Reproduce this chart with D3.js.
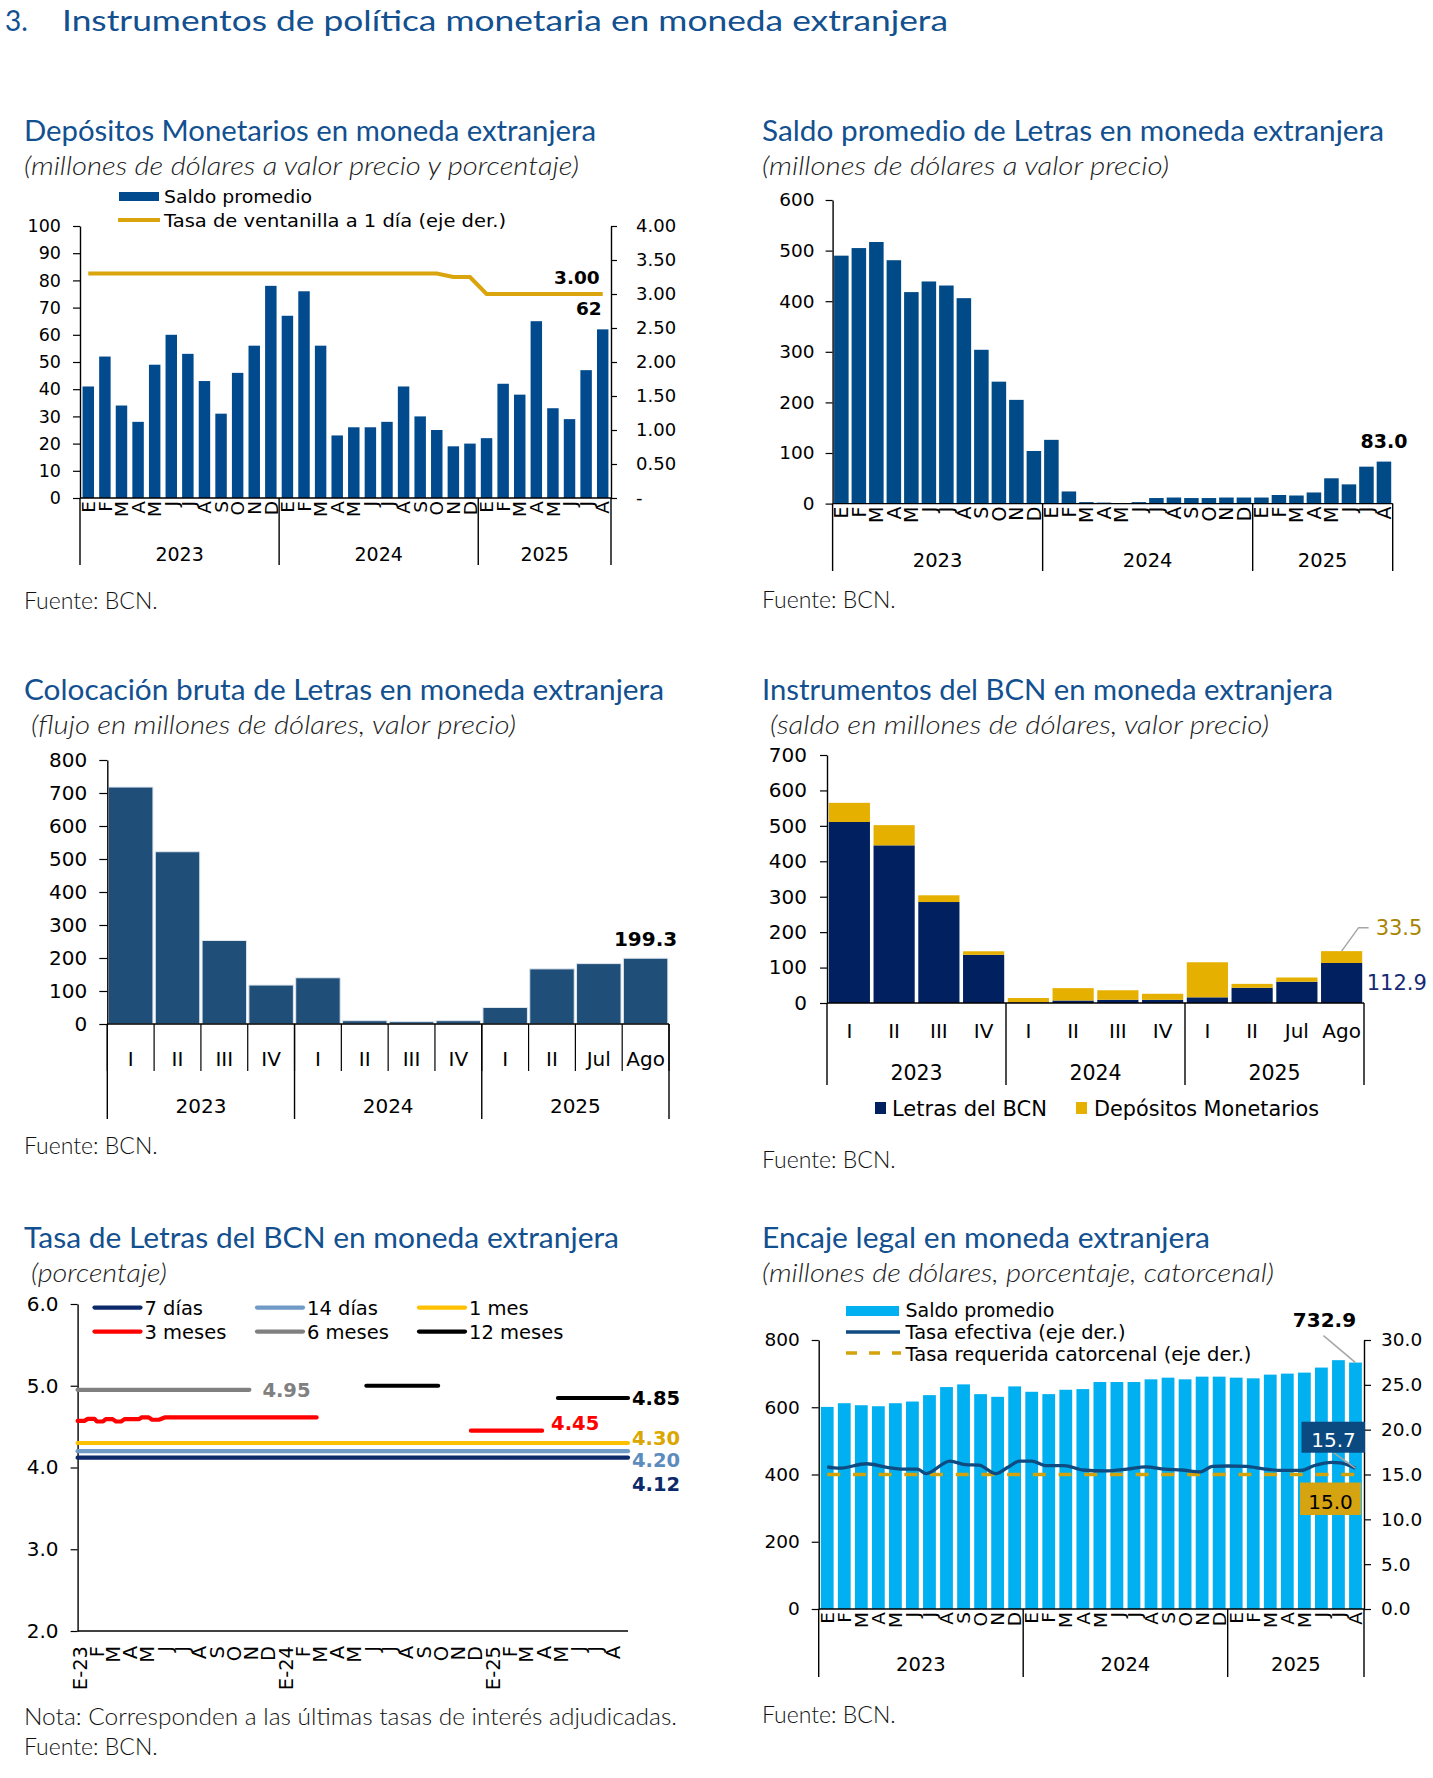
<!DOCTYPE html>
<html lang="es">
<head>
<meta charset="utf-8">
<title>Instrumentos de política monetaria en moneda extranjera</title>
<script src="https://cdn.jsdelivr.net/npm/d3@7"></script>
<style>
  body { margin: 0; background: #fff; }
  svg { display: block; }
  .titulo { font-family: Lato, "Noto Sans", sans-serif; fill: #12508f; font-size: 28px; }
  .subtitulo { font-family: Lato, "Noto Sans", sans-serif; font-style: italic; font-weight: 300; fill: #222; font-size: 26px; }
  .fuente { font-family: Lato, "Noto Sans", sans-serif; font-weight: 300; fill: #111; font-size: 23px; }
  text.ax { font-family: "DejaVu Sans", Verdana, sans-serif; fill: #000; }
</style>
</head>
<body>
<svg id="chart" width="1433" height="1778"></svg>
<script>
// categorias
const meses = ["E", "F", "M", "A", "M", "J", "J", "A", "S", "O", "N", "D"];
const anios = ["2023", "2024", "2025"];
const mesesPorAnio = [12, 12, 8];
const trimestres = ["I", "II", "III", "IV", "I", "II", "III", "IV", "I", "II", "Jul", "Ago"];
const periodosPorAnio = [4, 4, 4];

// Depositos monetarios (millones US$) y tasa de ventanilla (%)
const depositosSaldo = [41, 52, 34, 28, 49, 60, 53, 43, 31, 46, 56, 78,
  67, 76, 56, 23, 26, 26, 28, 41, 30, 25, 19, 20,
  22, 42, 38, 65, 33, 29, 47, 62];
const tasaVentanilla = [3.30, 3.30, 3.30, 3.30, 3.30, 3.30, 3.30, 3.30, 3.30, 3.30, 3.30, 3.30,
  3.30, 3.30, 3.30, 3.30, 3.30, 3.30, 3.30, 3.30, 3.30, 3.30, 3.25, 3.25,
  3.00, 3.00, 3.00, 3.00, 3.00, 3.00, 3.00, 3.00];

// Saldo promedio de Letras
const letrasSaldo = [490, 505, 517, 481, 418, 439, 431, 406, 304, 241, 205, 104,
  126, 24, 3, 2, 1, 3, 11, 12, 11, 11, 12, 12,
  12, 17, 16, 22, 50, 38, 73, 83.0];

// Colocacion bruta de Letras
const colocacionBruta = [718, 522, 253, 118, 140, 10, 7, 10, 50, 167, 183, 199.3];

// Instrumentos del BCN
const instLetras = [511, 445, 285, 136, 2, 7, 9, 9, 16, 43, 60, 112.9];
const instDepositos = [54, 57, 19, 10, 12, 35, 27, 17, 99, 11, 12, 33.5];

// Tasas de Letras (fecha, %) ; null = sin adjudicacion
const tasa7dias = [["2023-01-01", 4.12], ["2025-09-01", 4.12]];
const tasa14dias = [["2023-01-01", 4.20], ["2025-09-01", 4.20]];
const tasa1mes = [["2023-01-01", 4.30], ["2025-09-01", 4.30]];
const tasa3meses = [["2023-01-01", 4.57], ["2023-01-13", 4.57], ["2023-01-19", 4.595], ["2023-01-31", 4.595],
  ["2023-02-04", 4.563], ["2023-02-15", 4.563], ["2023-02-20", 4.592], ["2023-03-04", 4.592],
  ["2023-03-10", 4.563], ["2023-03-19", 4.563], ["2023-03-25", 4.592], ["2023-04-20", 4.592],
  ["2023-04-24", 4.612], ["2023-05-07", 4.612], ["2023-05-13", 4.584], ["2023-05-25", 4.584],
  ["2023-06-04", 4.612], ["2024-02-28", 4.612], null,
  ["2024-11-27", 4.45], ["2025-04-02", 4.45]];
const tasa6meses = [["2023-01-01", 4.95], ["2023-11-01", 4.95]];
const tasa12meses = [["2024-05-26", 5.00], ["2024-09-30", 5.00], null,
  ["2025-04-30", 4.85], ["2025-09-01", 4.85]];

// Encaje legal
const encajeSaldo = [601, 612, 606, 603, 612, 617, 636, 660, 668, 639, 631, 662,
  646, 639, 652, 654, 675, 675, 675, 683, 688, 683, 691, 691,
  688, 686, 697, 700, 703, 718, 740, 732.9];
const tasaEfectivaPos = [0, 0.7, 2.3, 3.5, 4.5, 5.3, 5.8, 7.2, 8.1, 8.9, 9.9, 10.6, 11.3, 12.0, 12.8, 13.9,
  15.0, 16.3, 17.6, 18.7, 19.8, 20.8, 21.9, 22.6, 23.5, 24.6, 25.7, 26.8, 27.8, 28.6, 29.6, 30.1, 31.0];
const tasaEfectiva = [15.86, 15.7, 16.2, 15.8, 15.6, 15.6, 15.1, 16.5, 16.1, 16.05, 15.1, 15.8, 16.5, 16.5, 16.0, 16.0,
  15.5, 15.4, 15.6, 15.85, 15.6, 15.5, 15.3, 15.9, 15.95, 15.9, 15.6, 15.45, 15.45, 16.0, 16.35, 16.3, 15.7];
const tasaRequerida = [15.0, 15.0, 15.0, 15.0, 15.0, 15.0, 15.0, 15.0, 15.0, 15.0, 15.0, 15.0,
  15.0, 15.0, 15.0, 15.0, 15.0, 15.0, 15.0, 15.0, 15.0, 15.0, 15.0, 15.0,
  15.0, 15.0, 15.0, 15.0, 15.0, 15.0, 15.0, 15.0];

const AX_FONT = "'DejaVu Sans', Verdana, sans-serif";
const svg = d3.select("#chart");

function texto(g, cls, x, y, t) {
  return g.append("text").attr("class", cls).attr("x", x).attr("y", y).text(t);
}

// el ancho se ajusta al del original (tipografia Futura, mas ancha)
function ajustar(t, w) {
  return t.attr("textLength", w).attr("lengthAdjust", "spacingAndGlyphs");
}

function encabezado(x, y, titulo, wT, sub, wS, subX) {
  ajustar(texto(svg, "titulo", x, y, titulo), wT);
  ajustar(texto(svg, "subtitulo", subX === undefined ? x : subX, y + 33.5, sub), wS);
}

function ejeY(g, scale, x, side, ticks, fmt, fs, size, pad) {
  const ax = (side === "left" ? d3.axisLeft(scale) : d3.axisRight(scale))
    .tickValues(ticks).tickFormat(fmt).tickSize(size).tickSizeOuter(0).tickPadding(pad);
  const a = g.append("g").attr("transform", `translate(${x},0)`).call(ax);
  a.attr("font-family", AX_FONT).attr("font-size", fs);
  a.select(".domain").attr("stroke", "#000").attr("stroke-width", 1.4);
  a.selectAll(".tick line").attr("stroke", "#000").attr("stroke-width", 1.2);
  a.selectAll(".tick text").attr("fill", "#000");
  return a;
}

function linea(g, x1, y1, x2, y2, w, color) {
  return g.append("line").attr("x1", x1).attr("y1", y1).attr("x2", x2).attr("y2", y2)
    .attr("stroke", color || "#000").attr("stroke-width", w || 1.4);
}

// eje de categorias agrupadas por año
function ejeGrupos(g, x, y0, labels, counts, o) {
  const r0 = x.range()[0], step = x.step();
  linea(g, x.range()[0], y0, x.range()[1], y0);
  const bounds = [0];
  let idx = 0;
  counts.forEach(n => { idx += n; bounds.push(idx); });
  labels.forEach((lab, i) => {
    const cx = x(i) + x.bandwidth() / 2;
    if (o.rotate) {
      g.append("text").attr("class", "ax").attr("font-size", o.fs)
        .attr("transform", `translate(${cx},${y0 + 3}) rotate(-90)`)
        .attr("text-anchor", "end").attr("dy", "0.36em").text(lab);
    } else {
      g.append("text").attr("class", "ax").attr("font-size", o.fs)
        .attr("x", cx).attr("y", o.labelY).attr("text-anchor", "middle").text(lab);
    }
  });
  if (o.tickEnd) {
    d3.range(labels.length + 1).forEach(i => linea(g, r0 + i * step, y0, r0 + i * step, o.tickEnd, 1.2));
  }
  bounds.forEach(b => linea(g, r0 + b * step, y0, r0 + b * step, o.sepEnd, 1.4));
  anios.forEach((a, k) => {
    g.append("text").attr("class", "ax").attr("font-size", o.yfs || o.fs)
      .attr("x", r0 + (bounds[k] + bounds[k + 1]) / 2 * step).attr("y", o.yearY)
      .attr("text-anchor", "middle").text(a);
  });
}

function etiquetasMeses() {
  const out = [];
  anios.forEach((a, k) => { for (let j = 0; j < mesesPorAnio[k]; j++) out.push(meses[j]); });
  return out;
}
const mesLabels = etiquetasMeses();

// ---------- titulo general ----------
texto(svg, "titulo", 5, 31, "3.").attr("font-size", 35);
ajustar(texto(svg, "titulo", 62, 31, "Instrumentos de política monetaria en moneda extranjera").attr("font-size", 35), 886);

// ---------- 1. Depósitos Monetarios ----------
(function () {
  const g = svg.append("g");
  encabezado(24, 141, "Depósitos Monetarios en moneda extranjera", 572,
    "(millones de dólares a valor precio y porcentaje)", 555);
  const x = d3.scaleBand().domain(d3.range(depositosSaldo.length)).range([80, 611]).paddingInner(0.31).paddingOuter(0.155);
  const y = d3.scaleLinear().domain([0, 100]).range([498, 226]);
  const yR = d3.scaleLinear().domain([0, 4]).range([498, 226]);
  g.selectAll("rect.b").data(depositosSaldo).join("rect")
    .attr("x", (d, i) => x(i)).attr("width", x.bandwidth())
    .attr("y", d => y(d)).attr("height", d => y(0) - y(d)).attr("fill", "#004a8d");
  ejeY(g, y, 80, "left", d3.range(0, 101, 10), d3.format("d"), 17.5, 7, 12);
  ejeY(g, yR, 611, "right", d3.range(0, 4.01, 0.5), d => d === 0 ? "-" : d3.format(".2f")(d), 18, 6, 19);
  ejeGrupos(g, x, 498, mesLabels, mesesPorAnio, { rotate: true, fs: 18.5, yfs: 19, yearY: 561, sepEnd: 565 });
  const cx = i => x(i) + x.bandwidth() / 2;
  g.append("path").datum(tasaVentanilla)
    .attr("d", d3.line().x((d, i) => cx(i)).y(d => yR(d)))
    .attr("fill", "none").attr("stroke", "#d9a40c").attr("stroke-width", 4);
  const n = depositosSaldo.length - 1;
  g.append("text").attr("class", "ax").attr("font-size", 18.5).attr("font-weight", "bold")
    .attr("x", cx(n) - 3).attr("y", yR(tasaVentanilla[n]) - 10).attr("text-anchor", "end")
    .text(d3.format(".2f")(tasaVentanilla[n]));
  g.append("text").attr("class", "ax").attr("font-size", 18.5).attr("font-weight", "bold")
    .attr("x", cx(n) - 1).attr("y", y(depositosSaldo[n]) - 14).attr("text-anchor", "end")
    .text(depositosSaldo[n]);
  // leyenda
  g.append("rect").attr("x", 119).attr("y", 192).attr("width", 40).attr("height", 9).attr("fill", "#004a8d");
  ajustar(texto(g, "ax", 164, 202.5, "Saldo promedio").attr("font-size", 18.5), 148);
  linea(g, 118, 220, 160, 220, 4, "#d9a40c");
  ajustar(texto(g, "ax", 164, 227, "Tasa de ventanilla a 1 día (eje der.)").attr("font-size", 18.5), 342);
  texto(svg, "fuente", 24, 609, "Fuente: BCN.");
})();

// ---------- 2. Saldo promedio de Letras ----------
(function () {
  const g = svg.append("g");
  encabezado(762, 141, "Saldo promedio de Letras en moneda extranjera", 622,
    "(millones de dólares a valor precio)", 407);
  const x = d3.scaleBand().domain(d3.range(letrasSaldo.length)).range([832.6, 1392.7]).paddingInner(0.17).paddingOuter(0.085);
  const y = d3.scaleLinear().domain([0, 600]).range([503.6, 200]);
  g.selectAll("rect").data(letrasSaldo).join("rect")
    .attr("x", (d, i) => x(i)).attr("width", x.bandwidth())
    .attr("y", d => y(d)).attr("height", d => y(0) - y(d)).attr("fill", "#004b87");
  ejeY(g, y, 832.6, "left", d3.range(0, 601, 100), d3.format("d"), 18.5, 7, 11);
  ejeGrupos(g, x, 503.6, mesLabels, mesesPorAnio, { rotate: true, fs: 19, yfs: 19.5, yearY: 567, sepEnd: 571 });
  const n = letrasSaldo.length - 1;
  g.append("text").attr("class", "ax").attr("font-size", 19).attr("font-weight", "bold")
    .attr("x", x(n) + x.bandwidth() / 2).attr("y", y(letrasSaldo[n]) - 14).attr("text-anchor", "middle")
    .text(d3.format(".1f")(letrasSaldo[n]));
  texto(svg, "fuente", 762, 607.5, "Fuente: BCN.");
})();

// ---------- 3. Colocación bruta ----------
(function () {
  const g = svg.append("g");
  encabezado(24, 700, "Colocación bruta de Letras en moneda extranjera", 640,
    "(flujo en millones de dólares, valor precio)", 485, 31);
  const x = d3.scaleBand().domain(d3.range(colocacionBruta.length)).range([107.3, 669]).paddingInner(0.05).paddingOuter(0.025);
  const y = d3.scaleLinear().domain([0, 800]).range([1024, 760]);
  g.selectAll("rect").data(colocacionBruta).join("rect")
    .attr("x", (d, i) => x(i)).attr("width", x.bandwidth())
    .attr("y", d => y(d)).attr("height", d => y(0) - y(d)).attr("fill", "#1f4e79")
    .attr("stroke", "#dfe6ee").attr("stroke-width", 1);
  ejeY(g, y, 107.3, "left", d3.range(0, 801, 100), d3.format("d"), 20, 8, 12);
  ejeGrupos(g, x, 1024, trimestres, periodosPorAnio, { fs: 20, labelY: 1066, tickEnd: 1071, yearY: 1113, sepEnd: 1119 });
  const n = colocacionBruta.length - 1;
  g.append("text").attr("class", "ax").attr("font-size", 20).attr("font-weight", "bold")
    .attr("x", x(n) + x.bandwidth() / 2).attr("y", y(colocacionBruta[n]) - 12).attr("text-anchor", "middle")
    .text(d3.format(".1f")(colocacionBruta[n]));
  texto(svg, "fuente", 24, 1154, "Fuente: BCN.");
})();

// ---------- 4. Instrumentos del BCN ----------
(function () {
  const g = svg.append("g");
  encabezado(762, 700, "Instrumentos del BCN en moneda extranjera", 571,
    "(saldo en millones de dólares, valor precio)", 499, 770);
  const x = d3.scaleBand().domain(d3.range(instLetras.length)).range([827, 1364]).paddingInner(0.08).paddingOuter(0.04);
  const y = d3.scaleLinear().domain([0, 700]).range([1003, 755]);
  const filas = instLetras.map((d, i) => ({ i, letras: d, depositos: instDepositos[i] }));
  const series = d3.stack().keys(["letras", "depositos"])(filas);
  const colores = { letras: "#00205f", depositos: "#e6b000" };
  g.selectAll("g.s").data(series).join("g").attr("fill", s => colores[s.key])
    .selectAll("rect").data(s => s).join("rect")
    .attr("x", d => x(d.data.i)).attr("width", x.bandwidth())
    .attr("y", d => y(d[1])).attr("height", d => y(d[0]) - y(d[1]));
  ejeY(g, y, 827, "left", d3.range(0, 701, 100), d3.format("d"), 20, 7, 13);
  ejeGrupos(g, x, 1003, trimestres, periodosPorAnio, { fs: 20, yfs: 20.5, labelY: 1038, yearY: 1080, sepEnd: 1085 });
  const n = instLetras.length - 1;
  const cx = x(n) + x.bandwidth() / 2;
  const top = y(instLetras[n] + instDepositos[n]);
  g.append("path").attr("d", d3.line()([[cx, top], [cx + 17, top - 23.5], [cx + 27, top - 23.5]]))
    .attr("fill", "none").attr("stroke", "#a6a6a6").attr("stroke-width", 1.5);
  g.append("text").attr("class", "ax").attr("font-size", 21).style("fill", "#a88400")
    .attr("x", cx + 34).attr("y", top - 16).text(d3.format(".1f")(instDepositos[n]));
  g.append("text").attr("class", "ax").attr("font-size", 21).style("fill", "#172a74")
    .attr("x", x(n) + x.bandwidth() + 4.5).attr("y", y(instLetras[n]) + 27).text(d3.format(".1f")(instLetras[n]));
  // leyenda
  g.append("rect").attr("x", 875).attr("y", 1102).attr("width", 11).attr("height", 12).attr("fill", colores.letras);
  ajustar(texto(g, "ax", 892, 1116, "Letras del BCN").attr("font-size", 20.5), 155);
  g.append("rect").attr("x", 1076).attr("y", 1102).attr("width", 11).attr("height", 12).attr("fill", colores.depositos);
  ajustar(texto(g, "ax", 1094, 1116, "Depósitos Monetarios").attr("font-size", 20.5), 225);
  texto(svg, "fuente", 762, 1167.5, "Fuente: BCN.");
})();

// ---------- 5. Tasa de Letras ----------
(function () {
  const g = svg.append("g");
  encabezado(24, 1248, "Tasa de Letras del BCN en moneda extranjera", 595, "(porcentaje)", 136, 31);
  const parse = d3.timeParse("%Y-%m-%d");
  const inicio = parse("2023-01-01"), fin = parse("2025-09-01");
  const x = d3.scaleTime().domain([inicio, fin]).range([77.6, 628]);
  const y = d3.scaleLinear().domain([2, 6]).range([1631, 1304]);
  ejeY(g, y, 77.6, "left", d3.range(2, 6.01, 1), d3.format(".1f"), 20, 7, 12);
  linea(g, 77.6, 1631, 628, 1631);
  const mesesFechas = d3.timeMonth.range(inicio, fin);
  mesesFechas.forEach((d, i) => {
    const lab = d.getMonth() === 0 ? "E-" + String(d.getFullYear()).slice(2) : mesLabels[i];
    g.append("text").attr("class", "ax").attr("font-size", 19.5)
      .attr("transform", `translate(${x(d) + 2},${1646}) rotate(-90)`)
      .attr("text-anchor", "end").attr("dy", "0.36em").text(lab);
  });
  const series = [
    { nombre: "7 días", datos: tasa7dias, color: "#0c2a6a", etq: "#0c2a6a", dy: 33 },
    { nombre: "14 días", datos: tasa14dias, color: "#6f9bc6", etq: "#5b8cbd", dy: 15.5 },
    { nombre: "1 mes", datos: tasa1mes, color: "#ffc000", etq: "#dca600", dy: 2.5 },
    { nombre: "3 meses", datos: tasa3meses, color: "#ff0000", etq: "#ff0000", dy: -1, dx: 9 },
    { nombre: "6 meses", datos: tasa6meses, color: "#808080", etq: "#808080", dy: 7, dx: 13 },
    { nombre: "12 meses", datos: tasa12meses, color: "#000000", etq: "#000000", dy: 7 }
  ];
  const ln = d3.line().defined(d => d !== null).x(d => x(parse(d[0]))).y(d => y(d[1]));
  series.forEach(s => {
    g.append("path").attr("d", ln(s.datos)).attr("fill", "none").attr("stroke", s.color)
      .attr("stroke-width", 4.2).attr("stroke-linecap", "round").attr("stroke-linejoin", "round");
  });
  series.forEach(s => {
    const ult = s.datos[s.datos.length - 1];
    g.append("text").attr("class", "ax").attr("font-size", 19.5).attr("font-weight", "bold")
      .style("fill", s.etq).attr("x", x(parse(ult[0])) + (s.dx || 4)).attr("y", y(ult[1]) + s.dy)
      .text(d3.format(".2f")(ult[1]));
  });
  // leyenda
  const colX = [94.5, 257, 419], rowY = [1307.6, 1331.6];
  series.forEach((s, i) => {
    const cx = colX[i % 3], cy = rowY[Math.floor(i / 3)];
    g.append("line").attr("x1", cx).attr("x2", cx + 46).attr("y1", cy).attr("y2", cy)
      .attr("stroke", s.color).attr("stroke-width", 4.2).attr("stroke-linecap", "round");
    texto(g, "ax", cx + 50, cy + 7.5, s.nombre).attr("font-size", 19.5);
  });
  ajustar(texto(svg, "fuente", 24, 1725, "Nota: Corresponden a las últimas tasas de interés adjudicadas."), 653);
  texto(svg, "fuente", 24, 1754.5, "Fuente: BCN.");
})();

// ---------- 6. Encaje legal ----------
(function () {
  const g = svg.append("g");
  encabezado(762, 1248, "Encaje legal en moneda extranjera", 448,
    "(millones de dólares, porcentaje, catorcenal)", 512);
  const x = d3.scaleBand().domain(d3.range(encajeSaldo.length)).range([818.7, 1364]).paddingInner(0.25).paddingOuter(0.125);
  const y = d3.scaleLinear().domain([0, 800]).range([1609, 1340]);
  const yR = d3.scaleLinear().domain([0, 30]).range([1609, 1340]);
  g.selectAll("rect").data(encajeSaldo).join("rect")
    .attr("x", (d, i) => x(i)).attr("width", x.bandwidth())
    .attr("y", d => y(d)).attr("height", d => y(0) - y(d)).attr("fill", "#00b0f0");
  ejeY(g, y, 818.7, "left", d3.range(0, 801, 200), d3.format("d"), 18.5, 7, 12);
  ejeY(g, yR, 1364, "right", d3.range(0, 30.1, 5), d3.format(".1f"), 18.5, 7, 10);
  ejeGrupos(g, x, 1609, mesLabels, mesesPorAnio, { rotate: true, fs: 18.5, yfs: 19.5, yearY: 1671, sepEnd: 1677 });
  const c0 = x(0) + x.bandwidth() / 2, n = encajeSaldo.length - 1, cN = x(n) + x.bandwidth() / 2;
  const xp = d3.scaleLinear().domain([0, n]).range([c0, cN]);
  g.append("path").datum(tasaRequerida)
    .attr("d", d3.line().x((d, i) => xp(i)).y(d => yR(d)))
    .attr("fill", "none").attr("stroke", "#d4a20b").attr("stroke-width", 3.3).attr("stroke-dasharray", "13,12.7");
  g.append("path").datum(tasaEfectivaPos.map((p, i) => [p, tasaEfectiva[i]]))
    .attr("d", d3.line().curve(d3.curveMonotoneX).x(d => xp(d[0])).y(d => yR(d[1])))
    .attr("fill", "none").attr("stroke", "#0f4a80").attr("stroke-width", 3.3);
  // etiquetas finales
  const topBar = y(encajeSaldo[n]);
  linea(g, cN, topBar, cN - 32, topBar - 27, 1.5, "#a6a6a6");
  g.append("text").attr("class", "ax").attr("font-size", 20).attr("font-weight", "bold")
    .attr("x", cN - 31).attr("y", topBar - 36).attr("text-anchor", "middle").text(d3.format(".1f")(encajeSaldo[n]));
  const te = tasaEfectiva[tasaEfectiva.length - 1], yte = yR(te);
  linea(g, cN, yte, cN - 22, yte - 15.5, 1.5, "#a6a6a6");
  g.append("rect").attr("x", cN - 54).attr("y", yte - 46.5).attr("width", 63.5).attr("height", 31).attr("fill", "#0b4a80");
  g.append("text").attr("class", "ax").attr("font-size", 20).style("fill", "#fff")
    .attr("x", cN - 22).attr("y", yte - 21.5).attr("text-anchor", "middle").text(d3.format(".1f")(te));
  const tr = tasaRequerida[n], ytr = yR(tr);
  g.append("rect").attr("x", cN - 55.5).attr("y", ytr + 8).attr("width", 61).attr("height", 32.5).attr("fill", "#d6a311");
  g.append("text").attr("class", "ax").attr("font-size", 20)
    .attr("x", cN - 25).attr("y", ytr + 34.5).attr("text-anchor", "middle").text(d3.format(".1f")(tr));
  // leyenda
  g.append("rect").attr("x", 846).attr("y", 1306).attr("width", 53).attr("height", 10).attr("fill", "#00b0f0");
  ajustar(texto(g, "ax", 905.5, 1317, "Saldo promedio").attr("font-size", 19), 149);
  linea(g, 846, 1332, 900, 1332, 3.3, "#0f4a80");
  ajustar(texto(g, "ax", 905.5, 1339, "Tasa efectiva (eje der.)").attr("font-size", 19), 220);
  linea(g, 846, 1353, 901, 1353, 3.3, "#d4a20b").attr("stroke-dasharray", "11,12");
  ajustar(texto(g, "ax", 905.5, 1361, "Tasa requerida catorcenal (eje der.)").attr("font-size", 19), 346);
  texto(svg, "fuente", 762, 1723, "Fuente: BCN.");
})();
</script>
</body>
</html>
